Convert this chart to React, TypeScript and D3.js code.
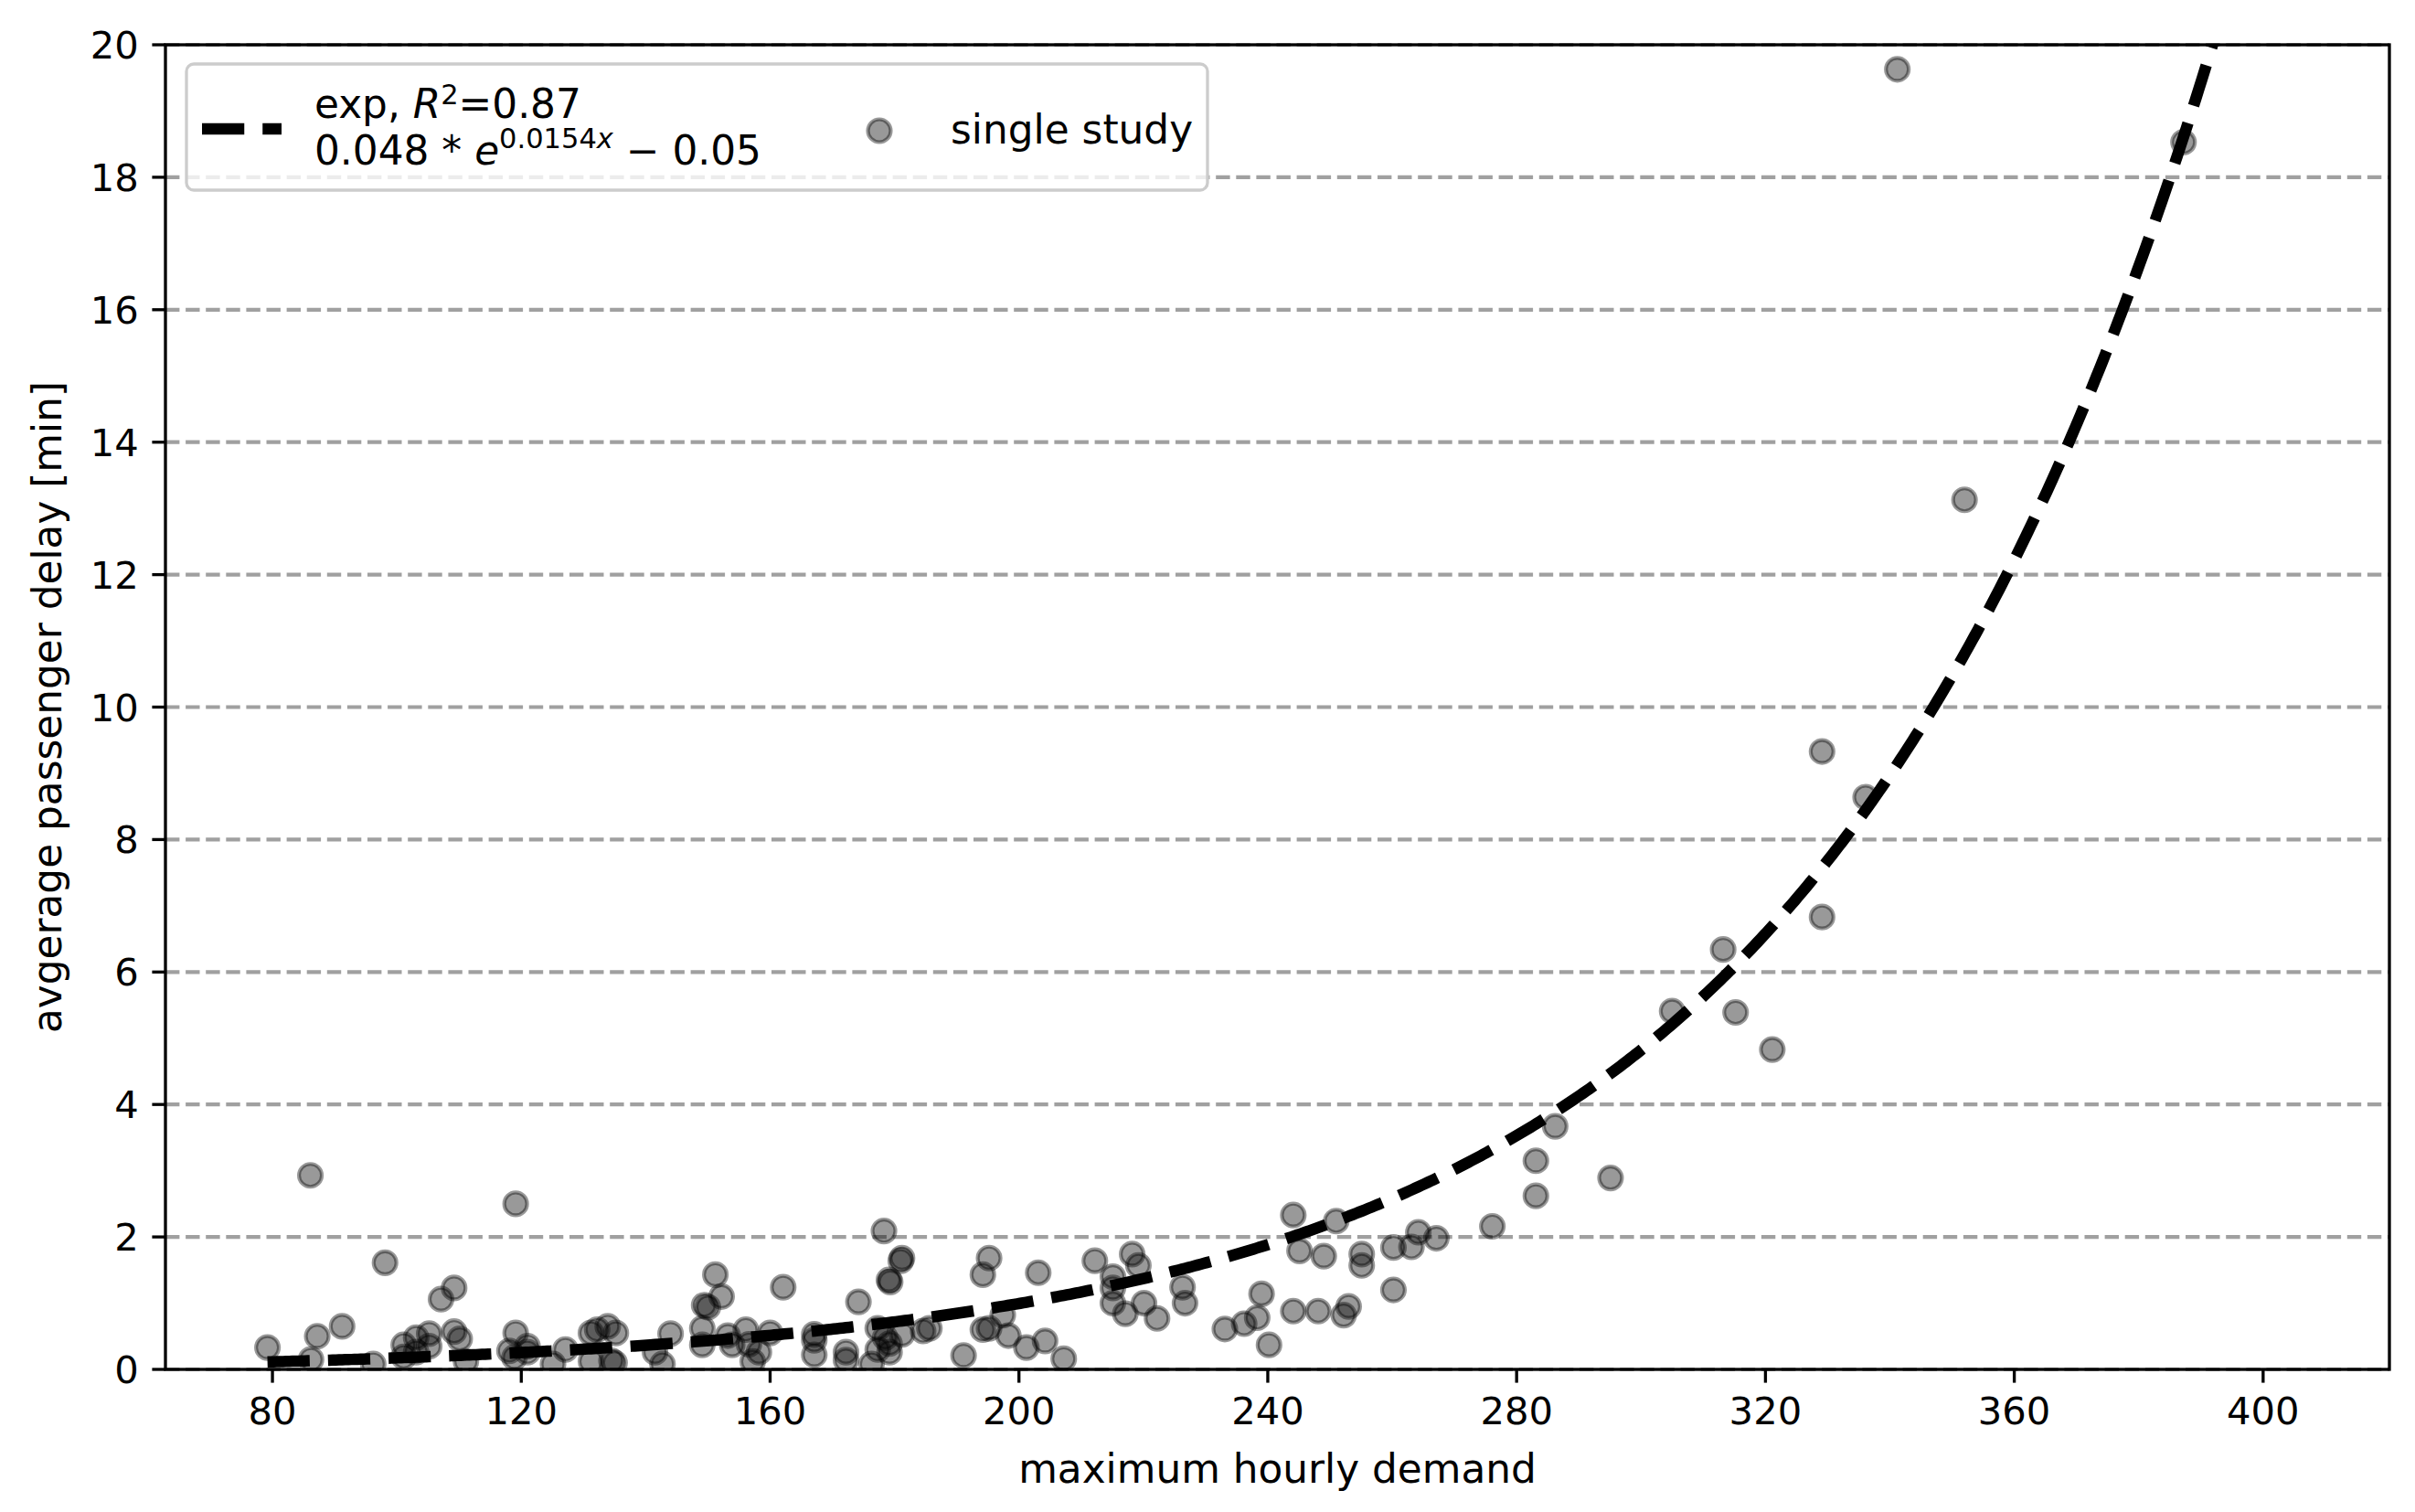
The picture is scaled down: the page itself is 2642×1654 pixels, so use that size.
import React from "react";
import * as d3 from "d3";

// ---- data ----
const demand = [
  79.2, 86.1, 86.2, 87.2, 91.2, 96.2, 98.1, 101.1, 101.1, 103.1, 103.1, 105.2, 105.2, 107.1, 109.2, 109.2, 110.1, 111.1,
  119.1, 119.1, 118.1, 121.0, 118.9, 121.0, 127.1, 125.1, 131.2, 132.2, 133.9, 135.2, 131.2, 134.5, 135.0,
  144.0, 141.5, 142.7, 149.4, 150.0, 149.1, 149.1, 151.2, 152.2,
  153.2, 153.9, 156.1, 156.6, 158.2, 157.2, 160.0, 162.1, 167.1, 167.1, 167.1, 172.2, 172.2, 174.2, 176.3,
  177.3, 177.3, 178.3, 181.2, 181.0, 179.1, 179.3, 178.5, 179.2, 179.2, 181.2, 184.6, 185.6,
  195.2, 194.2, 203.1, 197.4, 194.2, 195.2, 198.3, 191.1, 201.2, 204.2, 207.2,
  212.2, 215.1, 215.1, 215.1, 217.1, 218.2, 219.2, 220.1, 222.2, 226.3, 226.7,
  233.1, 236.2, 238.3, 239.0, 240.2, 244.1, 245.1, 244.1, 248.1, 249.0, 251.0, 252.2, 253.0,
  255.1, 255.1, 260.2, 260.2, 263.1, 264.2, 267.1, 276.1, 283.1, 283.1, 286.2, 295.1,
  305.0, 313.2, 315.2, 321.1, 329.1, 329.1, 336.1, 341.2, 352.0, 387.2,
];
const delay = [
  0.33, 2.93, 0.15, 0.5, 0.65, 0.08, 1.61, 0.37, 0.19, 0.48, 0.26, 0.54, 0.35, 1.06, 1.23, 0.57, 0.46, 0.12,
  2.5, 0.55, 0.28, 0.35, 0.18, 0.26, 0.3, 0.08, 0.55, 0.6, 0.65, 0.55, 0.12, 0.13, 0.1,
  0.54, 0.26, 0.08, 0.97, 0.94, 0.62, 0.37, 1.43, 1.1,
  0.51, 0.37, 0.6, 0.38, 0.26, 0.12, 0.55, 1.24, 0.53, 0.44, 0.22, 0.26, 0.14, 1.02, 0.08,
  0.62, 0.3, 2.09, 1.68, 1.64, 1.35, 1.32, 0.48, 0.26, 0.39, 0.53, 0.58, 0.62,
  1.68, 1.43, 1.46, 0.82, 0.6, 0.62, 0.51, 0.21, 0.33, 0.43, 0.16,
  1.64, 1.4, 1.23, 1.0, 0.84, 1.74, 1.57, 1.0, 0.77, 1.24, 1.0,
  0.61, 0.69, 0.78, 1.14, 0.37, 2.33, 1.79, 0.88, 0.88, 1.71, 2.24, 0.82, 0.95,
  1.74, 1.57, 1.84, 1.2, 1.85, 2.07, 1.98, 2.16, 3.15, 2.62, 3.67, 2.89,
  5.41, 6.34, 5.39, 4.83, 9.33, 6.83, 8.64, 19.63, 13.13, 18.53,
];
const xTicks = [80, 120, 160, 200, 240, 280, 320, 360, 400];
const yTicks = [0, 2, 4, 6, 8, 10, 12, 14, 16, 18, 20];
const fitA = 0.048;
const fitB = 0.0154;
const fitC = -0.05;
const xLabel = "maximum hourly demand";
const yLabel = "avgerage passenger delay [min]";
const pointLabel = "single study";

const W = 2642;
const H = 1654;
const L = 181, R = 2614, T = 49, B = 1498;
const FONT = "DejaVu Sans";
const FS = 41.7; // tick labels
const LFS = 43.8; // axis labels & legend
const SUP = 30.5;

export default function App() {
  const x = d3.scaleLinear().domain([62.8, 420.3]).range([L, R]);
  const y = d3.scaleLinear().domain([0, 20]).range([B, T]);

  const xs = d3.range(d3.min(demand) as number, 421, 0.5);
  const line = d3
    .line<number>()
    .x((v) => x(v))
    .y((v) => y(fitA * Math.exp(fitB * v) + fitC));

  const tickLen = 14.6;
  const pad = 14.6;

  return (
    <svg
      width={W}
      height={H}
      style={{ position: "absolute", left: 0, top: 0, background: "#fff" }}
      fontFamily={FONT}
    >
      <defs>
        <clipPath id="plotclip">
          <rect x={L} y={T} width={R - L} height={B - T} />
        </clipPath>
      </defs>
      <rect x={0} y={0} width={W} height={H} fill="#fff" />

      {/* grid */}
      {yTicks.map((t) => (
        <line
          key={"g" + t}
          x1={L}
          x2={R}
          y1={y(t)}
          y2={y(t)}
          stroke="#a0a0a0"
          strokeWidth={4.17}
          strokeDasharray="15.4,6.7"
        />
      ))}

      {/* points + fit */}
      <g clipPath="url(#plotclip)">
        {demand.map((d, i) => (
          <circle
            key={i}
            cx={x(d)}
            cy={y(delay[i])}
            r={12.5}
            fill="rgba(0,0,0,0.4)"
            stroke="rgba(0,0,0,0.4)"
            strokeWidth={4.17}
          />
        ))}
        <path
          d={line(xs) || ""}
          fill="none"
          stroke="#000"
          strokeWidth={12.5}
          strokeDasharray="46.25,20"
        />
      </g>

      {/* spines */}
      <rect x={L} y={T} width={R - L} height={B - T} fill="none" stroke="#000" strokeWidth={3.33} />

      {/* x ticks */}
      {xTicks.map((t) => (
        <g key={"x" + t}>
          <line x1={x(t)} x2={x(t)} y1={B} y2={B + tickLen} stroke="#000" strokeWidth={3.33} />
          <text x={x(t)} y={B + tickLen + pad + 30.4} fontSize={FS} textAnchor="middle" fill="#000">
            {t}
          </text>
        </g>
      ))}
      {/* y ticks */}
      {yTicks.map((t) => (
        <g key={"y" + t}>
          <line x1={L} x2={L - tickLen} y1={y(t)} y2={y(t)} stroke="#000" strokeWidth={3.33} />
          <text x={L - tickLen - pad} y={y(t) + 15} fontSize={FS} textAnchor="end" fill="#000">
            {t}
          </text>
        </g>
      ))}

      {/* axis labels */}
      <text x={(L + R) / 2} y={1622} fontSize={LFS} textAnchor="middle" fill="#000">
        {xLabel}
      </text>
      <text
        transform={`translate(67, ${(T + B) / 2}) rotate(-90)`}
        fontSize={LFS}
        textAnchor="middle"
        fill="#000"
      >
        {yLabel}
      </text>

      {/* legend */}
      <rect
        x={204}
        y={70}
        width={1117}
        height={138}
        rx={8}
        fill="rgba(255,255,255,0.8)"
        stroke="#cccccc"
        strokeWidth={3.3}
      />
      <line
        x1={221}
        x2={308}
        y1={141}
        y2={141}
        stroke="#000"
        strokeWidth={12.5}
        strokeDasharray="46.25,20"
      />
      <text x={344} y={129} fontSize={LFS} fill="#000">
        exp,{" "}
        <tspan fontStyle="italic">R</tspan>
        <tspan fontSize={SUP} dy={-15}>
          2
        </tspan>
        <tspan dy={15}>=0.87</tspan>
      </text>
      <text x={344} y={180} fontSize={LFS} fill="#000">
        0.048 *{" "}
        <tspan fontStyle="italic">e</tspan>
        <tspan fontSize={SUP} dy={-18}>
          0.0154
        </tspan>
        <tspan fontSize={SUP} fontStyle="italic">
          x
        </tspan>
        <tspan dy={18}> − 0.05</tspan>
      </text>
      <circle
        cx={962}
        cy={143}
        r={12.5}
        fill="rgba(0,0,0,0.4)"
        stroke="rgba(0,0,0,0.4)"
        strokeWidth={4.17}
      />
      <text x={1040} y={157} fontSize={LFS} fill="#000">
        {pointLabel}
      </text>
    </svg>
  );
}
